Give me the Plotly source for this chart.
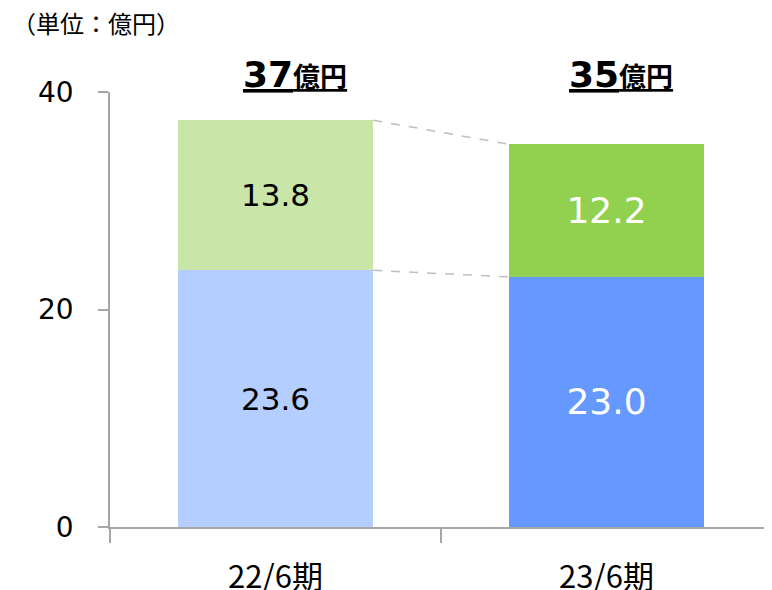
import plotly.graph_objects as go

categories = ["22/6期", "23/6期"]
lower_values = [23.6, 23.0]
upper_values = [13.8, 12.2]
lower_colors = ["#B4CEFF", "#6699FF"]
upper_colors = ["#C9E6A8", "#92D050"]
label_colors = ["#000000", "#FFFFFF"]
label_sizes = [31, 36]
unit_label = "（単位：億円）"
y_ticks = [0, 20, 40]

BAR_W = 0.59
LAT = "DejaVu Sans, Noto Sans CJK JP"
CJK = "Noto Sans CJK JP, DejaVu Sans"
TOTAL_XSHIFT = [19, 14]

# page body has an 8px margin, so the figure is 8px smaller than the window
W, H = 764, 582

fig = go.Figure()
fig.add_trace(go.Bar(
    x=categories, y=lower_values, width=BAR_W,
    marker=dict(color=lower_colors, line=dict(width=0)),
    texttemplate="%{y:.1f}", textposition="inside", insidetextanchor="middle",
    textangle=0, constraintext="none",
    textfont=dict(family=LAT, size=label_sizes, color=label_colors),
    hoverinfo="skip",
))
fig.add_trace(go.Bar(
    x=categories, y=upper_values, width=BAR_W,
    marker=dict(color=upper_colors, line=dict(width=0)),
    texttemplate="%{y:.1f}", textposition="inside", insidetextanchor="middle",
    textangle=0, constraintext="none",
    textfont=dict(family=LAT, size=label_sizes, color=label_colors),
    hoverinfo="skip",
))

# dashed connectors between bars
shapes = []
for i in range(len(categories) - 1):
    for ya, yb in [
        (lower_values[i], lower_values[i + 1]),
        (lower_values[i] + upper_values[i], lower_values[i + 1] + upper_values[i + 1]),
    ]:
        shapes.append(dict(
            type="line", xref="x", yref="y",
            x0=i + BAR_W / 2, x1=i + 1 - BAR_W / 2, y0=ya, y1=yb,
            line=dict(color="#BFBFBF", width=1.5, dash="dash"),
        ))

annotations = []
for i, c in enumerate(categories):
    tot = lower_values[i] + upper_values[i]
    annotations.append(dict(
        x=c, xref="x", y=1, yref="paper", yanchor="bottom", xanchor="center",
        yshift=-5, xshift=TOTAL_XSHIFT[i], showarrow=False,
        text=f"<b><u>{round(tot)}<span style='font-size:27px'>億円</span></u></b>",
        font=dict(family=LAT, size=36, color="#000000"),
    ))

fig.update_layout(
    width=W, height=H,
    margin=dict(l=102, r=0, t=84, b=63, autoexpand=False),
    paper_bgcolor="white", plot_bgcolor="white",
    barmode="stack", showlegend=False,
    shapes=shapes, annotations=annotations,
    title=dict(text=unit_label, x=4 / W, xanchor="left", xref="container",
               y=1 - 17 / H, yanchor="middle", yref="container",
               font=dict(family=CJK, size=24, color="#000000")),
    xaxis=dict(
        type="category", range=[-0.5, 1.5], tickson="boundaries",
        ticks="outside", ticklen=14, tickwidth=1.5, tickcolor="#A6A6A6",
        showline=True, linecolor="#A6A6A6", linewidth=1.5,
        showgrid=False, zeroline=False, ticklabelstandoff=22,
        tickfont=dict(family=CJK, size=31, color="#000000"),
    ),
    yaxis=dict(
        range=[0, 40], tickvals=y_ticks, ticks="outside", ticklen=10,
        tickwidth=1.5, tickcolor="#A6A6A6",
        showline=True, linecolor="#A6A6A6", linewidth=1.5,
        showgrid=False, zeroline=False, ticklabelstandoff=19,
        tickfont=dict(family=LAT, size=28, color="#000000"),
    ),
)

fig.write_html("out.html")
